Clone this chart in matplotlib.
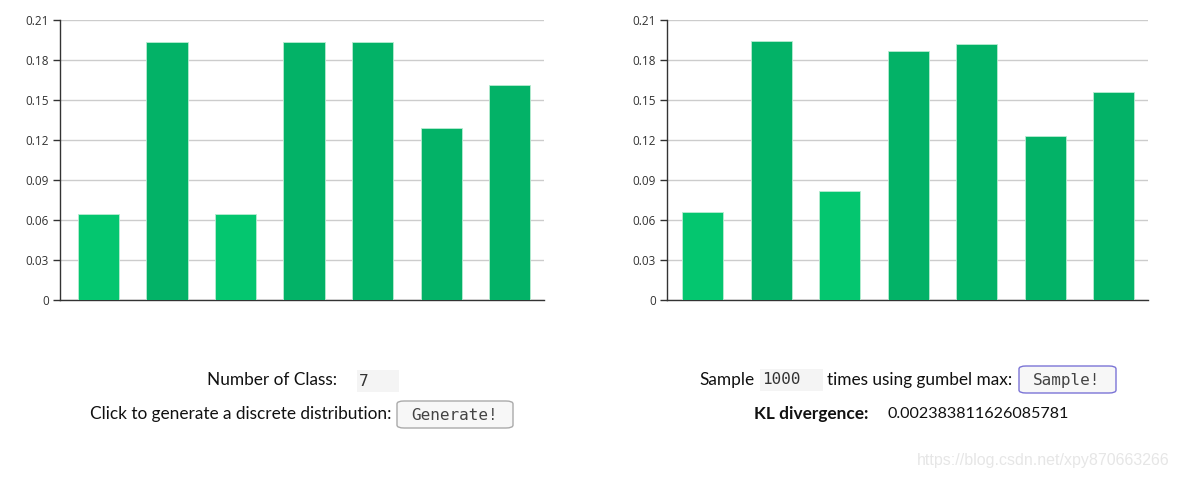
import matplotlib
matplotlib.use("Agg")
import matplotlib.pyplot as plt
from matplotlib.patches import FancyBboxPatch, Rectangle
import numpy as np

# data
classes = list(range(7))
target_probs = [2/31, 6/31, 2/31, 6/31, 6/31, 4/31, 5/31]
sampled_probs = [0.066, 0.194, 0.082, 0.187, 0.192, 0.123, 0.156]
y_ticks = [0, 0.03, 0.06, 0.09, 0.12, 0.15, 0.18, 0.21]
y_tick_labels = ["0", "0.03", "0.06", "0.09", "0.12", "0.15", "0.18", "0.21"]

num_class = "7"
num_samples = "1000"
kl_value = "0.002383811626085781"

W, H = 1180, 480
plt.rcParams["font.family"] = ["Lato", "DejaVu Sans"]

fig = plt.figure(figsize=(W / 100, H / 100), dpi=100)
fig.patch.set_facecolor("white")


def px(x, y):
    # pixel coords (top-left origin) -> figure fraction
    return x / W, 1 - y / H


def bar_chart(rect, values, x_left):
    ax = fig.add_axes(rect)
    colors = ["#04c66f" if v < 0.1 else "#03b267" for v in values]
    ax.bar(classes, values, width=0.6, color=colors, edgecolor="#b8ecd2",
           linewidth=0.6, zorder=3)
    ax.set_ylim(0, 0.21)
    ax.set_xlim(x_left, 6.5)
    ax.set_yticks(y_ticks)
    ax.set_yticklabels(y_tick_labels)
    ax.set_xticks([])
    ax.grid(axis="y", color="#cccccc", linewidth=1, zorder=0)
    for s in ["top", "right"]:
        ax.spines[s].set_visible(False)
    for s in ["left", "bottom"]:
        ax.spines[s].set_color("#333333")
        ax.spines[s].set_linewidth(1)
    ax.tick_params(axis="y", length=5, width=1, color="#333333",
                   labelsize=8.5, labelcolor="#333333", pad=3)
    for lab in ax.get_yticklabels():
        lab.set_family(["Open Sans", "DejaVu Sans"])
    return ax


bar_chart([60 / W, 180 / H, 484 / W, 280 / H], target_probs, -0.56)
bar_chart([667 / W, 180 / H, 481 / W, 280 / H], sampled_probs, -0.52)

txt = dict(fontsize=12.4, color="#111111", va="center")
mono = dict(family="DejaVu Sans Mono", fontsize=11.5, va="center")


def box(x0, y0, x1, y1, fc, ec, rounded=False, lw=1.0):
    a, b = px(x0, y1)
    c, d = px(x1, y0)
    if rounded:
        p = FancyBboxPatch((a, b), c - a, d - b, boxstyle="round,pad=0,rounding_size=0.006",
                           transform=fig.transFigure, facecolor=fc, edgecolor=ec, linewidth=lw)
    else:
        p = Rectangle((a, b), c - a, d - b, transform=fig.transFigure,
                      facecolor=fc, edgecolor=ec, linewidth=lw)
    fig.add_artist(p)


# left controls
fig.text(*px(337, 380), "Number of Class:", ha="right", **txt)
box(357, 370, 399, 392, "#f4f4f4", "none", lw=0)
fig.text(*px(359, 381), num_class, ha="left", color="#333333", **mono)
fig.text(*px(391, 414), "Click to generate a discrete distribution:", ha="right", **txt)
box(397, 401, 513, 428, "#f7f7f7", "#aaaaaa", rounded=True)
fig.text(*px(455, 415), "Generate!", ha="center", color="#444444", **mono)

# right controls
fig.text(*px(699, 380), "Sample", ha="left", **txt)
box(760, 369, 823, 391, "#f4f4f4", "none", lw=0)
fig.text(*px(762, 380), num_samples, ha="left", color="#333333", **mono)
fig.text(*px(827, 380), "times using gumbel max:", ha="left", **txt)
box(1019, 366, 1116, 393, "#f7f7f7", "#7b74d6", rounded=True)
fig.text(*px(1067, 380), "Sample!", ha="center", color="#444444", **mono)
fig.text(*px(868, 414), "KL divergence:", ha="right", fontweight="bold", **txt)
fig.text(*px(888, 414), kl_value, ha="left", fontsize=11.6, color="#111111", va="center")

# watermark
fig.text(*px(1170, 461), "https://blog.csdn.net/xpy870663266", ha="right", va="center",
         fontsize=11.5, color="#e6e6e6", family=["Liberation Sans", "DejaVu Sans"])

fig.savefig("out.png", dpi=100)
